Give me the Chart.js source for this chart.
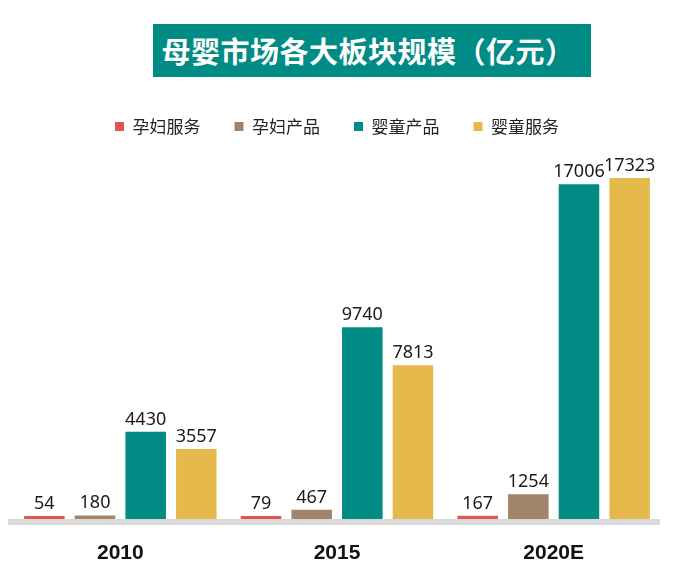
<!DOCTYPE html>
<html><head><meta charset="utf-8">
<script src="https://cdn.jsdelivr.net/npm/chart.js@4.4.1/dist/chart.umd.min.js"></script>
<style>
html,body{margin:0;padding:0;background:#fff;}
#wrap{position:relative;width:700px;height:583px;overflow:hidden;}
#c{position:absolute;left:0;top:0;}
#title{position:absolute;left:153px;top:24px;width:438px;height:53px;background:#008B84;color:#fff;
font-family:"Noto Sans CJK SC",sans-serif;font-weight:bold;font-size:29px;line-height:53px;text-align:center;text-indent:-8px;letter-spacing:0.5px;}
</style></head>
<body><div id="wrap"><canvas id="c" width="700" height="583"></canvas><div id="title">母婴市场各大板块规模（亿元）</div></div>
<script>
const categories = ['2010', '2015', '2020E'];
const seriesNames = ['孕妇服务', '孕妇产品', '婴童产品', '婴童服务'];
const maternalServices = [54, 79, 167];
const maternalProducts = [180, 467, 1254];
const infantProducts = [4430, 9740, 17006];
const infantServices = [3557, 7813, 17323];
const colors = ['#E0574F', '#A2846A', '#008B84', '#E5B94C'];

const seriesValues = [maternalServices, maternalProducts, infantProducts, infantServices];

const baseline = {
  id: 'baseline',
  beforeDatasetsDraw(chart) {
    const {ctx, chartArea} = chart;
    ctx.save();
    ctx.fillStyle = '#D9D9D9';
    ctx.fillRect(8, chartArea.bottom, 652, 6);
    ctx.restore();
  }
};
const valueLabels = {
  id: 'valueLabels',
  afterDatasetsDraw(chart) {
    const {ctx} = chart;
    ctx.save();
    ctx.font = '18px "Noto Sans", sans-serif';
    ctx.fillStyle = '#1a1a1a';
    ctx.textAlign = 'center';
    ctx.textBaseline = 'alphabetic';
    chart.data.datasets.forEach((ds, i) => {
      chart.getDatasetMeta(i).data.forEach((bar, j) => {
        ctx.fillText(String(ds.data[j]), bar.x, bar.y - 7);
      });
    });
    ctx.restore();
  }
};

new Chart(document.getElementById('c'), {
  type: 'bar',
  data: {
    labels: categories,
    datasets: seriesNames.map((n, i) => ({
      label: n,
      data: seriesValues[i],
      backgroundColor: colors[i],
      borderWidth: 0,
      minBarLength: 3,
      categoryPercentage: 0.935,
      barPercentage: 0.8
    }))
  },
  options: {
    responsive: false,
    animation: false,
    devicePixelRatio: 1,
    layout: {padding: {top: 84, left: 12, right: 38, bottom: 0}},
    plugins: {
      legend: {
        position: 'top',
        labels: {
          boxWidth: 9, boxHeight: 9, padding: 34,
          color: '#222',
          font: {family: '"Noto Sans CJK SC", sans-serif', size: 17}
        }
      },
      title: {display: false},
      tooltip: {enabled: false}
    },
    scales: {
      x: {
        grid: {display: false},
        border: {display: false},
        afterFit(scale) { scale.height = 64; },
        ticks: {color: '#111', padding: 14, maxRotation: 0, font: {family: '"Liberation Sans", sans-serif', size: 21, weight: 'bold'}}
      },
      y: {display: false, min: 0, max: 19000}
    }
  },
  plugins: [baseline, valueLabels]
});
</script></body></html>
